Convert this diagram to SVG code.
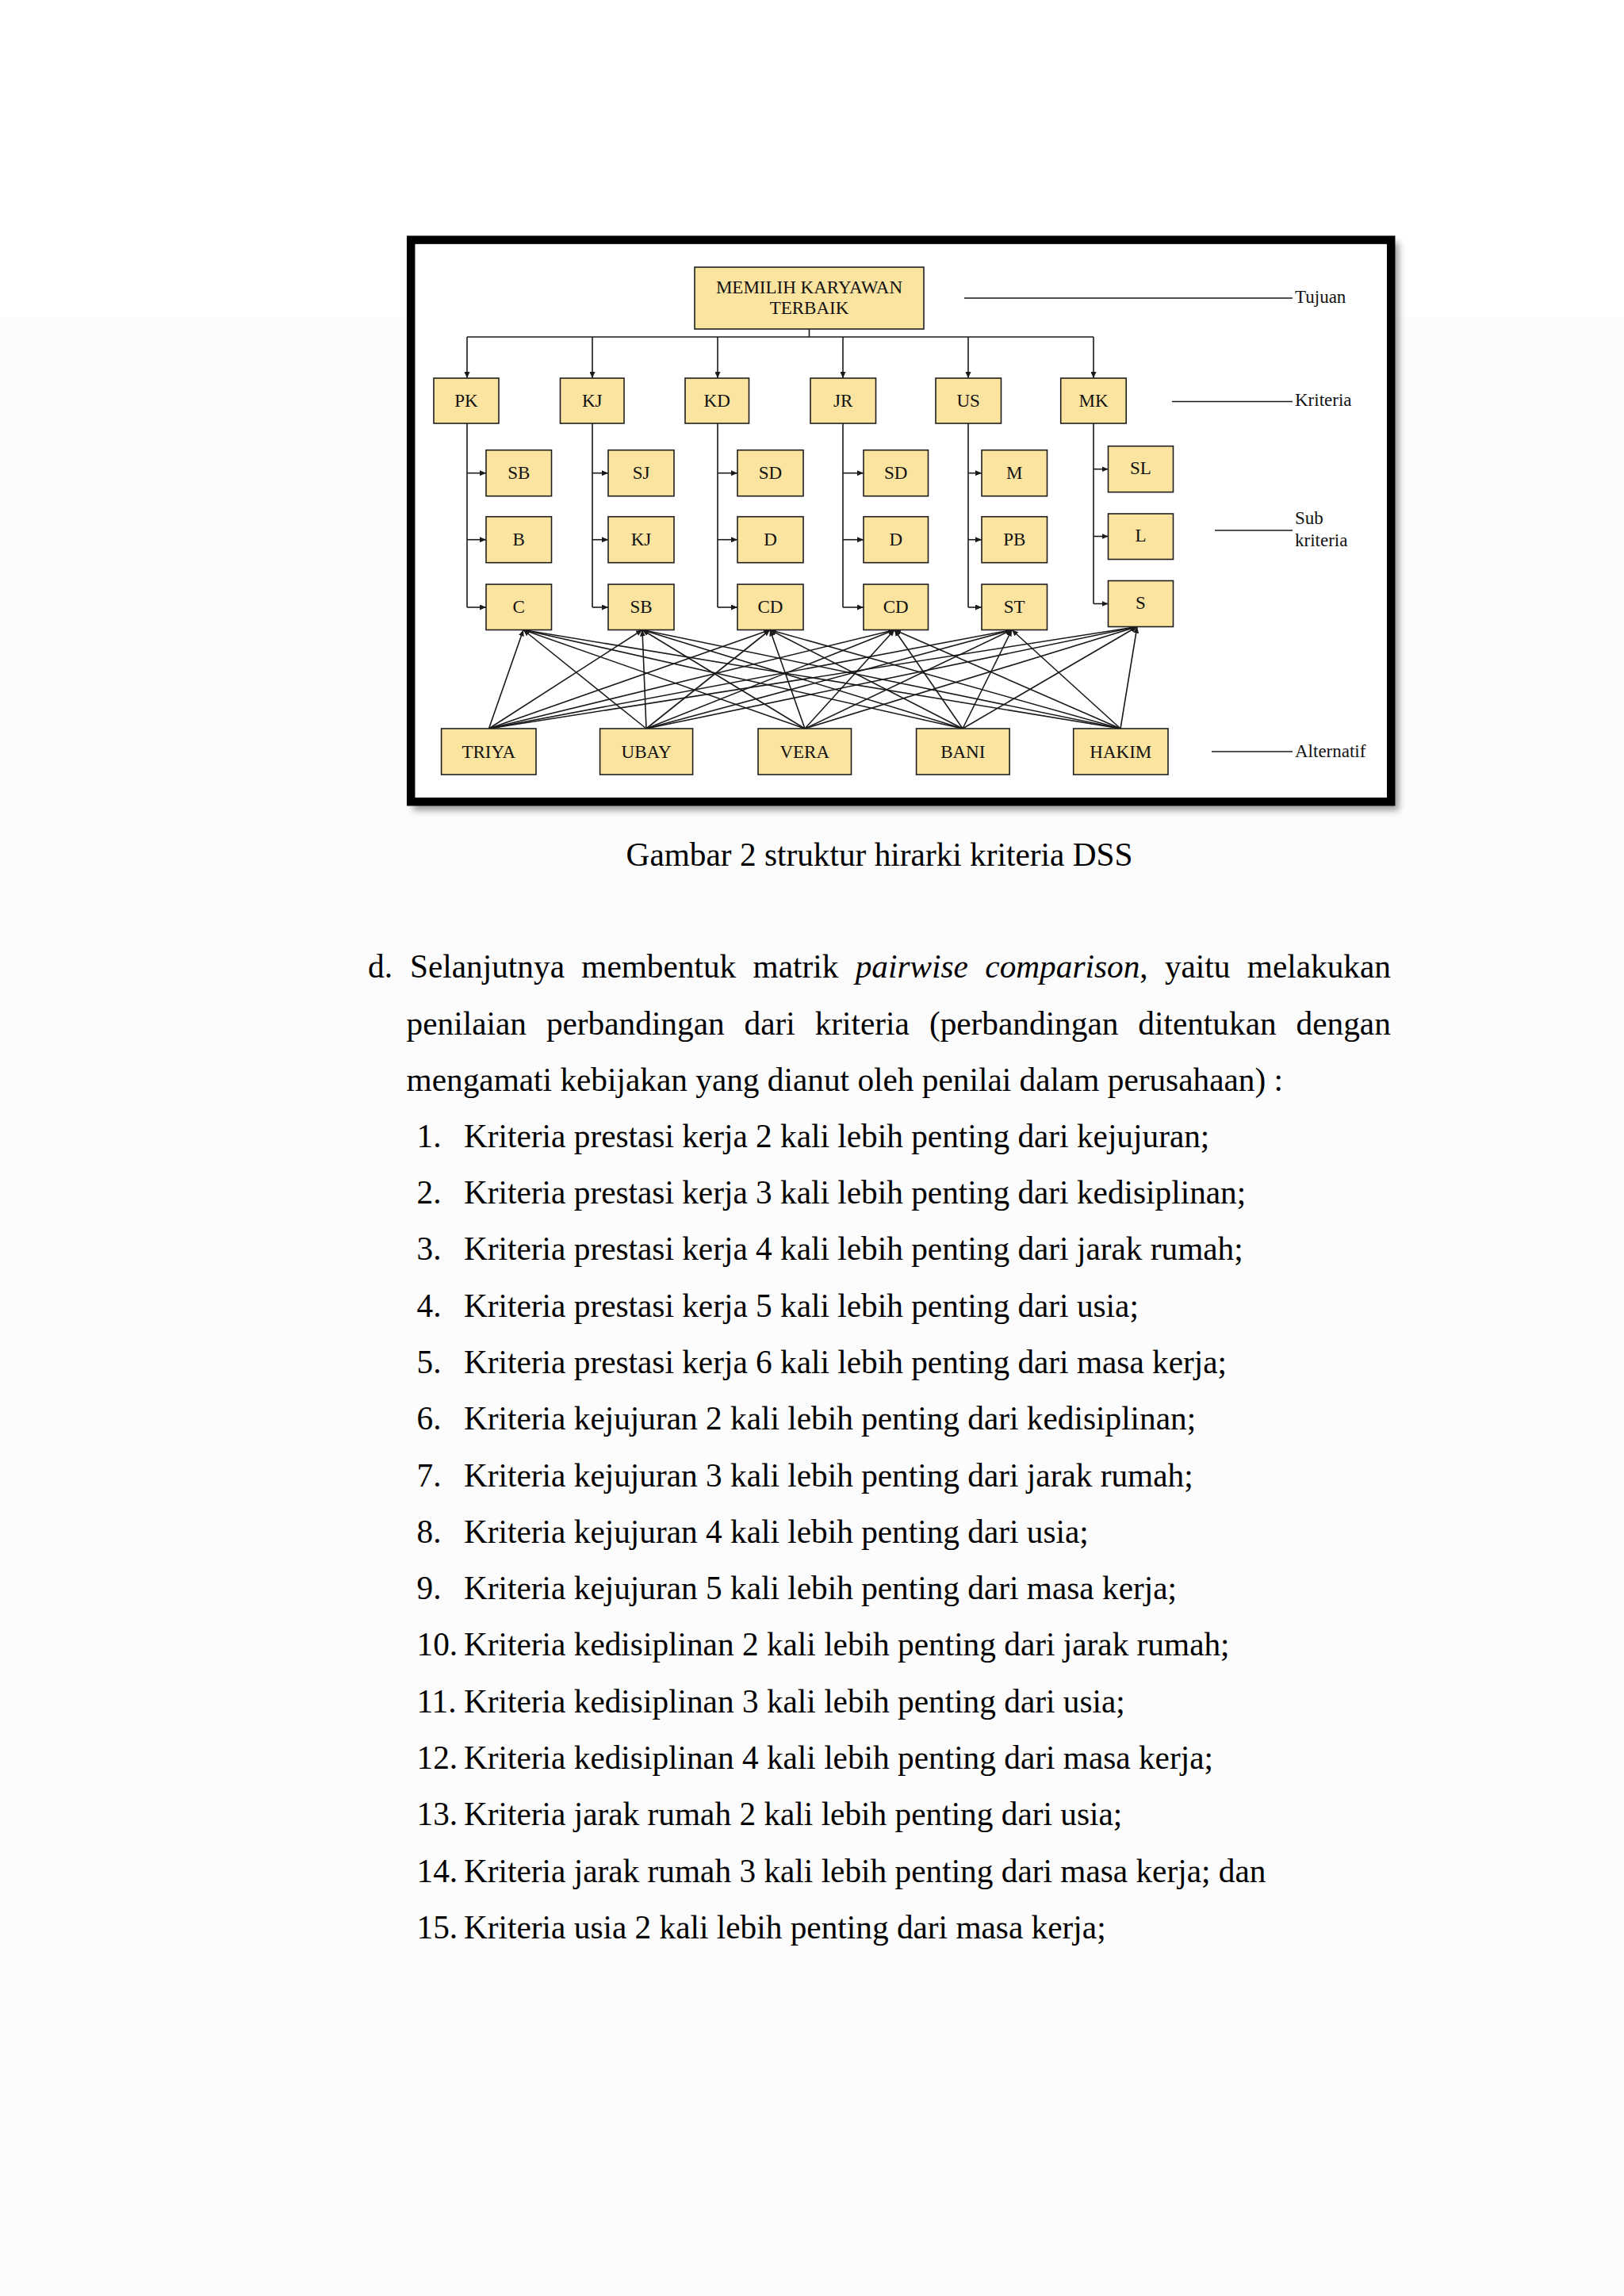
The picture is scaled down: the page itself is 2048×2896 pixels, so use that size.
<svg xmlns="http://www.w3.org/2000/svg" width="2048" height="2896" viewBox="0 0 2048 2896">
<style>
.box{fill:#FBE3A0;stroke:#1e1e1e;stroke-width:1.6}
.lbl{font-family:"Liberation Serif","Times New Roman",serif;font-size:23px;fill:#111;text-anchor:middle}
.leg{font-family:"Liberation Serif","Times New Roman",serif;font-size:23px;fill:#111}
.ln{fill:none;stroke:#1a1a1a;stroke-width:1.6}
.arr{fill:none;stroke:#1a1a1a;stroke-width:1.6;marker-end:url(#ah)}
.body{font-family:"Liberation Serif","Times New Roman",serif;font-size:41.3px;fill:#000}
</style>
<defs>
<marker id="ah" viewBox="0 0 8 7" refX="8" refY="3.5" markerWidth="8" markerHeight="7" markerUnits="userSpaceOnUse" orient="auto">
<path d="M0,0 L8,3.5 L0,7 z" fill="#1a1a1a"/>
</marker>
<filter id="sh" x="-5%" y="-5%" width="110%" height="110%">
<feGaussianBlur stdDeviation="4"/>
</filter>
</defs>
<rect x="0" y="0" width="2048" height="2896" fill="#ffffff"/>
<rect x="0" y="400" width="2048" height="2496" fill="#fcfcfc"/>

<g id="frame">
<rect x="521" y="306" width="1243" height="716" fill="#9a9a9a" filter="url(#sh)"/>
<rect x="518.2" y="302.6" width="1236" height="708.6" fill="#ffffff" stroke="#000" stroke-width="10.5"/>
</g>

<g id="connectors">
<path class="ln" d="M1020.5,415 V425 M589,425 H1379"/>
<line class="arr" x1="589" y1="425" x2="589" y2="477"/>
<line class="arr" x1="747" y1="425" x2="747" y2="477"/>
<line class="arr" x1="905" y1="425" x2="905" y2="477"/>
<line class="arr" x1="1063" y1="425" x2="1063" y2="477"/>
<line class="arr" x1="1221" y1="425" x2="1221" y2="477"/>
<line class="arr" x1="1379" y1="425" x2="1379" y2="477"/>

<path class="ln" d="M589,534 V766 M747,534 V766 M905,534 V766 M1063,534 V766 M1221,534 V766 M1379,534 V761.5"/>
<line class="arr" x1="589" y1="596.7" x2="613" y2="596.7"/>
<line class="arr" x1="589" y1="680.7" x2="613" y2="680.7"/>
<line class="arr" x1="589" y1="766" x2="613" y2="766"/>
<line class="arr" x1="747" y1="596.7" x2="767" y2="596.7"/>
<line class="arr" x1="747" y1="680.7" x2="767" y2="680.7"/>
<line class="arr" x1="747" y1="766" x2="767" y2="766"/>
<line class="arr" x1="905" y1="596.7" x2="930" y2="596.7"/>
<line class="arr" x1="905" y1="680.7" x2="930" y2="680.7"/>
<line class="arr" x1="905" y1="766" x2="930" y2="766"/>
<line class="arr" x1="1063" y1="596.7" x2="1089" y2="596.7"/>
<line class="arr" x1="1063" y1="680.7" x2="1089" y2="680.7"/>
<line class="arr" x1="1063" y1="766" x2="1089" y2="766"/>
<line class="arr" x1="1221" y1="596.7" x2="1238" y2="596.7"/>
<line class="arr" x1="1221" y1="680.7" x2="1238" y2="680.7"/>
<line class="arr" x1="1221" y1="766" x2="1238" y2="766"/>
<line class="arr" x1="1379" y1="591.7" x2="1397.5" y2="591.7"/>
<line class="arr" x1="1379" y1="676.5" x2="1397.5" y2="676.5"/>
<line class="arr" x1="1379" y1="761.5" x2="1397.5" y2="761.5"/>

<!-- alternatives to sub-criteria -->
<line class="arr" x1="616.5" y1="919" x2="660" y2="794.5"/>
<line class="arr" x1="616.5" y1="919" x2="810" y2="794.5"/>
<line class="arr" x1="616.5" y1="919" x2="971" y2="794.5"/>
<line class="arr" x1="616.5" y1="919" x2="1128" y2="794.5"/>
<line class="arr" x1="616.5" y1="919" x2="1276" y2="794.5"/>
<line class="arr" x1="616.5" y1="919" x2="1434" y2="790.5"/>
<line class="arr" x1="815" y1="919" x2="660" y2="794.5"/>
<line class="arr" x1="815" y1="919" x2="810" y2="794.5"/>
<line class="arr" x1="815" y1="919" x2="971" y2="794.5"/>
<line class="arr" x1="815" y1="919" x2="1128" y2="794.5"/>
<line class="arr" x1="815" y1="919" x2="1276" y2="794.5"/>
<line class="arr" x1="815" y1="919" x2="1434" y2="790.5"/>
<line class="arr" x1="1015" y1="919" x2="660" y2="794.5"/>
<line class="arr" x1="1015" y1="919" x2="810" y2="794.5"/>
<line class="arr" x1="1015" y1="919" x2="971" y2="794.5"/>
<line class="arr" x1="1015" y1="919" x2="1128" y2="794.5"/>
<line class="arr" x1="1015" y1="919" x2="1276" y2="794.5"/>
<line class="arr" x1="1015" y1="919" x2="1434" y2="790.5"/>
<line class="arr" x1="1214" y1="919" x2="660" y2="794.5"/>
<line class="arr" x1="1214" y1="919" x2="810" y2="794.5"/>
<line class="arr" x1="1214" y1="919" x2="971" y2="794.5"/>
<line class="arr" x1="1214" y1="919" x2="1128" y2="794.5"/>
<line class="arr" x1="1214" y1="919" x2="1276" y2="794.5"/>
<line class="arr" x1="1214" y1="919" x2="1434" y2="790.5"/>
<line class="arr" x1="1413" y1="919" x2="660" y2="794.5"/>
<line class="arr" x1="1413" y1="919" x2="810" y2="794.5"/>
<line class="arr" x1="1413" y1="919" x2="971" y2="794.5"/>
<line class="arr" x1="1413" y1="919" x2="1128" y2="794.5"/>
<line class="arr" x1="1413" y1="919" x2="1276" y2="794.5"/>
<line class="arr" x1="1413" y1="919" x2="1434" y2="790.5"/>
</g>

<g id="goal"><rect class="box" x="876" y="337" width="289" height="78"/><text class="lbl" x="1020.5" y="369.5">MEMILIH KARYAWAN</text><text class="lbl" x="1020.5" y="396">TERBAIK</text></g>

<g id="c-PK"><rect class="box" x="547" y="477" width="82" height="57"/><text class="lbl" x="588" y="513">PK</text></g>
<g id="c-KJ"><rect class="box" x="706.5" y="477" width="80.5" height="57"/><text class="lbl" x="746.7" y="513">KJ</text></g>
<g id="c-KD"><rect class="box" x="864" y="477" width="80.5" height="57"/><text class="lbl" x="904.2" y="513">KD</text></g>
<g id="c-JR"><rect class="box" x="1022" y="477" width="82.5" height="57"/><text class="lbl" x="1063.2" y="513">JR</text></g>
<g id="c-US"><rect class="box" x="1180" y="477" width="82.5" height="57"/><text class="lbl" x="1221.2" y="513">US</text></g>
<g id="c-MK"><rect class="box" x="1337.7" y="477" width="82.5" height="57"/><text class="lbl" x="1379" y="513">MK</text></g>

<g id="s-PK-SB"><rect class="box" x="613" y="567.7" width="82.5" height="58"/><text class="lbl" x="654.2" y="603.5">SB</text></g>
<g id="s-PK-B"><rect class="box" x="613" y="651.7" width="82.5" height="58"/><text class="lbl" x="654.2" y="687.5">B</text></g>
<g id="s-PK-C"><rect class="box" x="613" y="737" width="82.5" height="57.5"/><text class="lbl" x="654.2" y="772.5">C</text></g>

<g id="s-KJ-SJ"><rect class="box" x="767" y="567.7" width="83" height="58"/><text class="lbl" x="808.5" y="603.5">SJ</text></g>
<g id="s-KJ-KJ"><rect class="box" x="767" y="651.7" width="83" height="58"/><text class="lbl" x="808.5" y="687.5">KJ</text></g>
<g id="s-KJ-SB"><rect class="box" x="767" y="737" width="83" height="57.5"/><text class="lbl" x="808.5" y="772.5">SB</text></g>

<g id="s-KD-SD"><rect class="box" x="930" y="567.7" width="83" height="58"/><text class="lbl" x="971.5" y="603.5">SD</text></g>
<g id="s-KD-D"><rect class="box" x="930" y="651.7" width="83" height="58"/><text class="lbl" x="971.5" y="687.5">D</text></g>
<g id="s-KD-CD"><rect class="box" x="930" y="737" width="83" height="57.5"/><text class="lbl" x="971.5" y="772.5">CD</text></g>

<g id="s-JR-SD"><rect class="box" x="1089" y="567.7" width="81.5" height="58"/><text class="lbl" x="1129.7" y="603.5">SD</text></g>
<g id="s-JR-D"><rect class="box" x="1089" y="651.7" width="81.5" height="58"/><text class="lbl" x="1129.7" y="687.5">D</text></g>
<g id="s-JR-CD"><rect class="box" x="1089" y="737" width="81.5" height="57.5"/><text class="lbl" x="1129.7" y="772.5">CD</text></g>

<g id="s-US-M"><rect class="box" x="1238" y="567.7" width="82.5" height="58"/><text class="lbl" x="1279.2" y="603.5">M</text></g>
<g id="s-US-PB"><rect class="box" x="1238" y="651.7" width="82.5" height="58"/><text class="lbl" x="1279.2" y="687.5">PB</text></g>
<g id="s-US-ST"><rect class="box" x="1238" y="737" width="82.5" height="57.5"/><text class="lbl" x="1279.2" y="772.5">ST</text></g>

<g id="s-MK-SL"><rect class="box" x="1397.5" y="562.7" width="82" height="58"/><text class="lbl" x="1438.5" y="598">SL</text></g>
<g id="s-MK-L"><rect class="box" x="1397.5" y="648" width="82" height="57.5"/><text class="lbl" x="1438.5" y="683">L</text></g>
<g id="s-MK-S"><rect class="box" x="1397.5" y="732.5" width="82" height="58"/><text class="lbl" x="1438.5" y="768">S</text></g>

<g id="a-TRIYA"><rect class="box" x="556.6" y="919" width="119.4" height="58"/><text class="lbl" x="616.3" y="955.5">TRIYA</text></g>
<g id="a-UBAY"><rect class="box" x="756.6" y="919" width="117" height="58"/><text class="lbl" x="815.1" y="955.5">UBAY</text></g>
<g id="a-VERA"><rect class="box" x="956" y="919" width="117.5" height="58"/><text class="lbl" x="1014.7" y="955.5">VERA</text></g>
<g id="a-BANI"><rect class="box" x="1155.6" y="919" width="117.5" height="58"/><text class="lbl" x="1214.3" y="955.5">BANI</text></g>
<g id="a-HAKIM"><rect class="box" x="1353.7" y="919" width="119.3" height="58"/><text class="lbl" x="1413.3" y="955.5">HAKIM</text></g>

<g id="legend">
<path class="ln" d="M1216,376 H1630 M1478,506.5 H1630 M1532,669 H1630 M1528,948 H1630"/>
<text class="leg" x="1633" y="382">Tujuan</text>
<text class="leg" x="1633" y="512">Kriteria</text>
<text class="leg" x="1633" y="661">Sub</text>
<text class="leg" x="1633" y="689">kriteria</text>
<text class="leg" x="1633" y="955">Alternatif</text>
</g>

<g id="text">
<text class="body" x="1109" y="1091.7" text-anchor="middle">Gambar 2 struktur hirarki kriteria DSS</text>

<text class="body" y="1233"><tspan x="464">d.</tspan><tspan x="517">Selanjutnya</tspan><tspan x="733.3">membentuk</tspan><tspan x="949.6">matrik</tspan><tspan x="1078.7" font-style="italic">pairwise</tspan><tspan x="1242.3" font-style="italic">comparison</tspan><tspan>,</tspan><tspan x="1468.9">yaitu</tspan><tspan x="1572.8">melakukan</tspan></text>
<text class="body" y="1304.6"><tspan x="512.6">penilaian</tspan><tspan x="688.9">perbandingan</tspan><tspan x="938.6">dari</tspan><tspan x="1027.7">kriteria</tspan><tspan x="1171.9">(perbandingan</tspan><tspan x="1435.3">ditentukan</tspan><tspan x="1634.6">dengan</tspan></text>
<text class="body" x="512.6" y="1376">mengamati kebijakan yang dianut oleh penilai dalam perusahaan) :</text>

<text class="body" y="1446.7"><tspan x="525.5">1.</tspan><tspan x="585">Kriteria prestasi kerja 2 kali lebih penting dari kejujuran;</tspan></text>
<text class="body" y="1518"><tspan x="525.5">2.</tspan><tspan x="585">Kriteria prestasi kerja 3 kali lebih penting dari kedisiplinan;</tspan></text>
<text class="body" y="1589.3"><tspan x="525.5">3.</tspan><tspan x="585">Kriteria prestasi kerja 4 kali lebih penting dari jarak rumah;</tspan></text>
<text class="body" y="1660.6"><tspan x="525.5">4.</tspan><tspan x="585">Kriteria prestasi kerja 5 kali lebih penting dari usia;</tspan></text>
<text class="body" y="1731.9"><tspan x="525.5">5.</tspan><tspan x="585">Kriteria prestasi kerja 6 kali lebih penting dari masa kerja;</tspan></text>
<text class="body" y="1803.2"><tspan x="525.5">6.</tspan><tspan x="585">Kriteria kejujuran 2 kali lebih penting dari kedisiplinan;</tspan></text>
<text class="body" y="1874.5"><tspan x="525.5">7.</tspan><tspan x="585">Kriteria kejujuran 3 kali lebih penting dari jarak rumah;</tspan></text>
<text class="body" y="1945.8"><tspan x="525.5">8.</tspan><tspan x="585">Kriteria kejujuran 4 kali lebih penting dari usia;</tspan></text>
<text class="body" y="2017.1"><tspan x="525.5">9.</tspan><tspan x="585">Kriteria kejujuran 5 kali lebih penting dari masa kerja;</tspan></text>
<text class="body" y="2088.4"><tspan x="525.5">10.</tspan><tspan x="585">Kriteria kedisiplinan 2 kali lebih penting dari jarak rumah;</tspan></text>
<text class="body" y="2159.7"><tspan x="525.5">11.</tspan><tspan x="585">Kriteria kedisiplinan 3 kali lebih penting dari usia;</tspan></text>
<text class="body" y="2231"><tspan x="525.5">12.</tspan><tspan x="585">Kriteria kedisiplinan 4 kali lebih penting dari masa kerja;</tspan></text>
<text class="body" y="2302.3"><tspan x="525.5">13.</tspan><tspan x="585">Kriteria jarak rumah 2 kali lebih penting dari usia;</tspan></text>
<text class="body" y="2373.6"><tspan x="525.5">14.</tspan><tspan x="585">Kriteria jarak rumah 3 kali lebih penting dari masa kerja; dan</tspan></text>
<text class="body" y="2444.9"><tspan x="525.5">15.</tspan><tspan x="585">Kriteria usia 2 kali lebih penting dari masa kerja;</tspan></text>
</g>
</svg>
